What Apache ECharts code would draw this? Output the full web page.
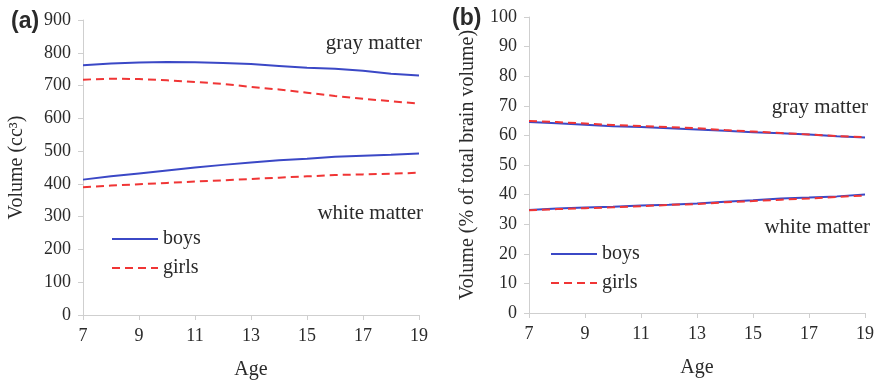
<!DOCTYPE html>
<html>
<head>
<meta charset="utf-8">
<script src="https://cdn.jsdelivr.net/npm/echarts@6/dist/echarts.min.js"></script>
<style>html,body{margin:0;padding:0;background:#fff;}#c{width:877px;height:380px;}</style>
</head>
<body>
<div id="c"></div>
<script>
// Data
var ages = ['7','8','9','10','11','12','13','14','15','16','17','18','19'];
// Panel (a): volume in cc
var grayBoysCc  = [762,767,770,772,771,769,766,760,754,751,745,736,731];
var grayGirlsCc = [718,721,720,716,711,705,696,688,678,668,660,652,645];
var whiteBoysCc  = [413,423,432,441,450,458,465,472,477,483,486,489,493];
var whiteGirlsCc = [390,395,399,403,407,411,415,419,423,427,429,431,434];
// Panel (b): % of total brain volume
var grayBoysPct  = [64.5,64.1,63.6,63.1,62.8,62.4,62.0,61.6,61.1,60.7,60.3,59.7,59.3];
var grayGirlsPct = [64.9,64.5,64.0,63.5,63.2,62.8,62.4,61.8,61.3,60.8,60.3,59.8,59.4];
var whiteBoysPct  = [34.8,35.3,35.6,35.9,36.3,36.6,37.0,37.6,38.1,38.7,39.0,39.4,40.0];
var whiteGirlsPct = [34.7,35.1,35.4,35.7,36.1,36.5,36.8,37.4,37.8,38.3,38.7,39.2,39.7];
var yTicksA = {min:0, max:900, interval:100};
var yTicksB = {min:0, max:100, interval:10};

var BLUE = '#3b48c6', RED = '#f03535', TXT = '#2a2a2a', AX = '#cfcfcf';
var SERIF = '"Liberation Serif", "DejaVu Serif", serif';

function xAxis(gi){
  return {
    type:'category', gridIndex:gi, data:ages, boundaryGap:false,
    axisLine:{lineStyle:{color:AX,width:1}},
    axisTick:{show:true, interval:1, length:5, lineStyle:{color:AX}},
    axisLabel:{interval:1, color:TXT, fontFamily:SERIF, fontSize:18, margin:12},
    splitLine:{show:false},
    name:'Age', nameLocation:'middle', nameGap:45,
    nameTextStyle:{color:TXT, fontFamily:SERIF, fontSize:20}
  };
}
function yAxis(gi, t, name, gap){
  return {
    type:'value', gridIndex:gi, min:t.min, max:t.max, interval:t.interval,
    axisLine:{show:true, lineStyle:{color:AX,width:1}},
    axisTick:{show:true, length:5, lineStyle:{color:AX}},
    axisLabel:{color:TXT, fontFamily:SERIF, fontSize:18, margin:12},
    splitLine:{show:false},
    name:name, nameLocation:'middle', nameGap:gap,
    nameTextStyle:{color:TXT, fontFamily:SERIF, fontSize:20}
  };
}
function line(name, gi, data, color, dashed){
  return {
    type:'line', name:name, xAxisIndex:gi, yAxisIndex:gi, data:data,
    symbol:'none', smooth:false, silent:true, animation:false,
    lineStyle:{color:color, width:2, type: dashed ? [8,5] : 'solid'},
    itemStyle:{color:color}
  };
}
function legend(left, top){
  return {
    orient:'vertical', left:left, top:top, padding:0, itemWidth:46, itemHeight:20, itemGap:9,
    data:['boys','girls'], selectedMode:false,
    textStyle:{color:TXT, fontFamily:SERIF, fontSize:20, padding:[0,0,0,0]},
    itemStyle:{opacity:0}
  };
}
function label(txt, x, y, align, font){
  return {type:'text', x:x, y:y, silent:true,
    style:{text:txt, fill:TXT, font:font, textAlign:align, textVerticalAlign:'middle'}};
}

var chart = echarts.init(document.getElementById('c'), null, {renderer:'canvas'});
chart.setOption({
  animation:false,
  backgroundColor:'#ffffff',
  grid:[
    {left:83, top:20, width:336, height:295, outerBoundsMode:'none', containLabel:false},
    {left:529, top:17, width:336, height:296, outerBoundsMode:'none', containLabel:false}
  ],
  xAxis:[xAxis(0), xAxis(1)],
  yAxis:[yAxis(0, yTicksA, 'Volume (cc³)', 56), yAxis(1, yTicksB, 'Volume (% of total brain volume)', 51)],
  legend:[legend(111, 229), legend(550, 244)],
  series:[
    line('boys', 0, grayBoysCc, BLUE, false),
    line('girls', 0, grayGirlsCc, RED, true),
    line('boys', 0, whiteBoysCc, BLUE, false),
    line('girls', 0, whiteGirlsCc, RED, true),
    line('boys', 1, grayBoysPct, BLUE, false),
    line('boys', 1, whiteBoysPct, BLUE, false),
    line('girls', 1, grayGirlsPct, RED, true),
    line('girls', 1, whiteGirlsPct, RED, true)
  ],
  graphic:[
    label('(a)', 11, 22, 'left', 'bold 23px "Liberation Sans", Arial, sans-serif'),
    label('(b)', 452, 19, 'left', 'bold 23px "Liberation Sans", Arial, sans-serif'),
    label('gray matter', 422, 43, 'right', '21px ' + SERIF),
    label('white matter', 423, 213, 'right', '21px ' + SERIF),
    label('gray matter', 868, 107, 'right', '21px ' + SERIF),
    label('white matter', 870, 227, 'right', '21px ' + SERIF)
  ]
});
</script>
</body>
</html>
